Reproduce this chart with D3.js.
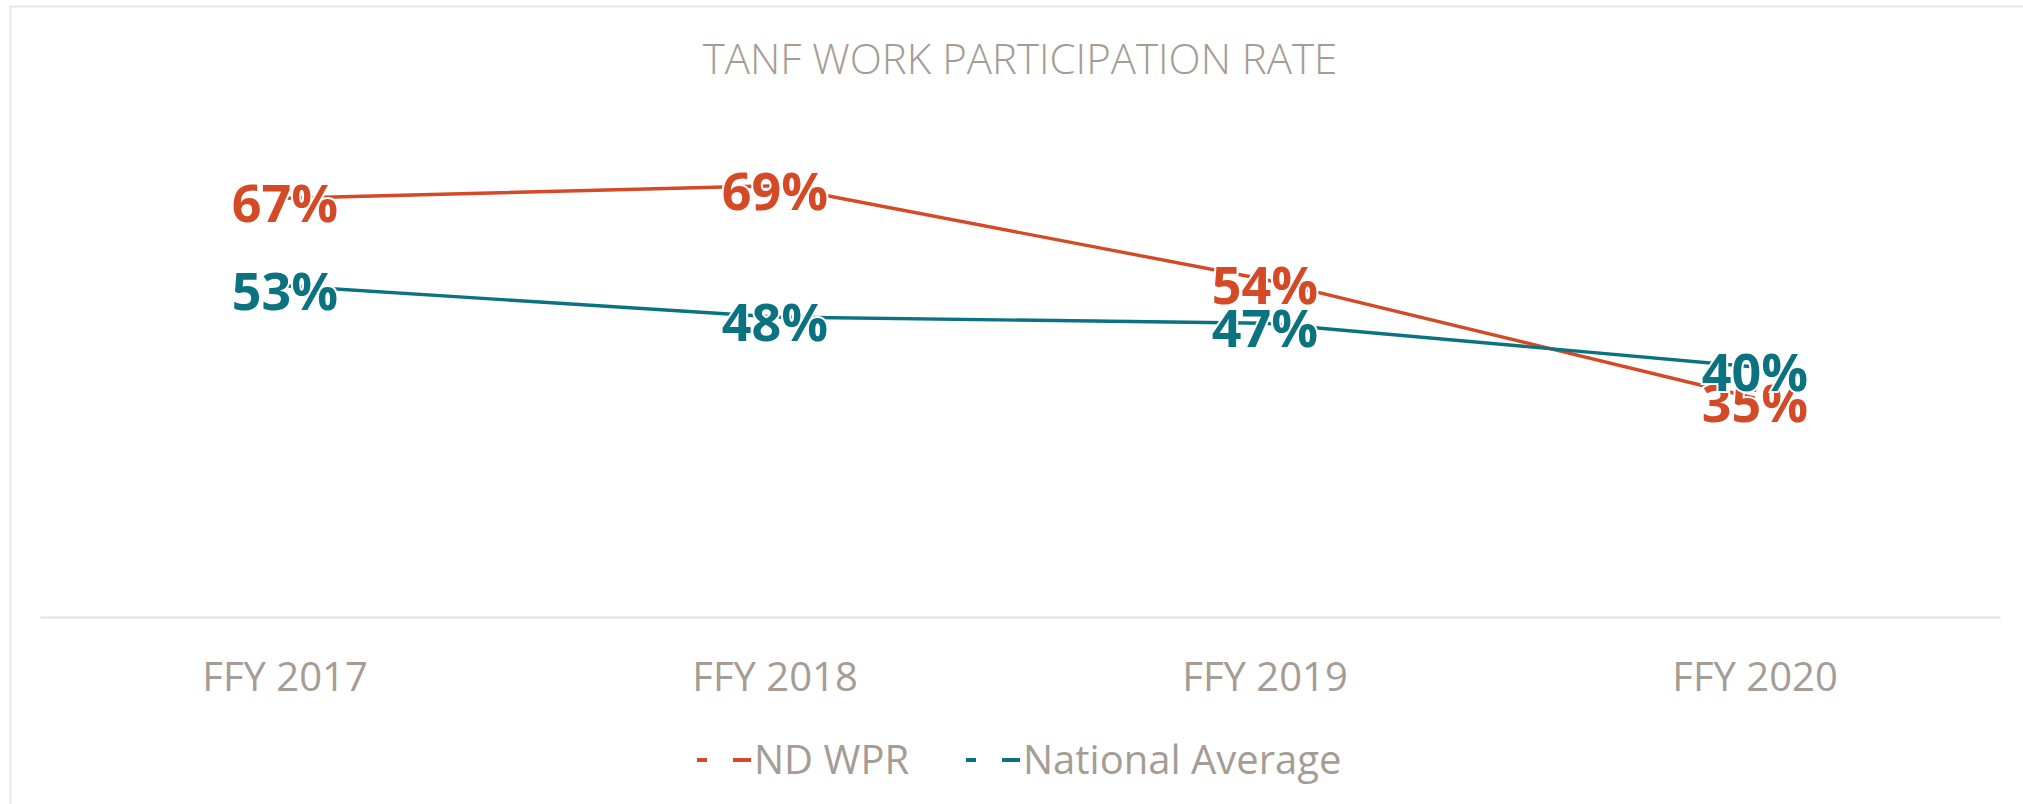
<!DOCTYPE html>
<html>
<head>
<meta charset="utf-8">
<script src="https://cdn.jsdelivr.net/npm/d3@7"></script>
<style>
  html, body { margin: 0; padding: 0; background: #fff; }
  svg { display: block; }
</style>
</head>
<body>
<svg id="chart" width="2023" height="804"></svg>
<script>
const title = "TANF WORK PARTICIPATION RATE";
const categories = ["FFY 2017", "FFY 2018", "FFY 2019", "FFY 2020"];
const seriesNames = ["ND WPR", "National Average"];
const ndWpr = [0.67, 0.69, 0.54, 0.35];
const nationalAverage = [0.53, 0.48, 0.47, 0.40];
const colors = ["#D44A27", "#0B7280"];
const yDomain = [0, 0.8];

const textColor = "#A59C94";
const font = "'Open Sans', 'Noto Sans', sans-serif";

const svg = d3.select("#chart");
const W = 2023, H = 804;

// frame
svg.append("line").attr("x1", 10).attr("x2", W).attr("y1", 6.5).attr("y2", 6.5)
  .attr("stroke", "#e6e6e6").attr("stroke-width", 2);
svg.append("line").attr("x1", 10.5).attr("x2", 10.5).attr("y1", 6).attr("y2", H)
  .attr("stroke", "#e6e6e6").attr("stroke-width", 2);

const x = d3.scaleBand().domain(categories).range([40, 2000]);
const y = d3.scaleLinear().domain(yDomain).range([617, 117]);

// title
svg.append("text").attr("x", 1020).attr("y", 74)
  .attr("text-anchor", "middle")
  .attr("font-family", font).attr("font-weight", 300)
  .attr("font-size", 42).attr("fill", textColor)
  .text(title);

// x axis
const xAxis = d3.axisBottom(x).tickSize(0).tickPadding(0);
const gx = svg.append("g").attr("transform", "translate(0,617)").call(xAxis);
gx.select(".domain").attr("stroke", "#e2e2e2").attr("stroke-width", 2);
gx.selectAll(".tick text")
  .attr("font-family", font).attr("font-size", 40).attr("fill", textColor)
  .attr("dy", 0).attr("y", 74);

const series = [ndWpr, nationalAverage];
const line = d3.line()
  .x((d, i) => x(categories[i]) + x.bandwidth() / 2)
  .y(d => y(d));

series.forEach((vals, si) => {
  svg.append("path").datum(vals)
    .attr("d", line)
    .attr("fill", "none")
    .attr("stroke", colors[si])
    .attr("stroke-width", 3.4)
    .attr("stroke-linejoin", "round");
});

const fmt = d3.format(".0%");
series.forEach((vals, si) => {
  svg.append("g").selectAll("text").data(vals).join("text")
    .attr("x", (d, i) => x(categories[i]) + x.bandwidth() / 2)
    .attr("y", d => y(d) + 24)
    .attr("text-anchor", "middle")
    .attr("font-family", font).attr("font-weight", 700)
    .attr("font-size", 52)
    .attr("fill", colors[si])
    .attr("stroke", "#fff").attr("stroke-width", 4).attr("paint-order", "stroke")
    .text(d => fmt(d));
});

// legend
const legend = [
  { name: seriesNames[0], color: colors[0], x: 697 },
  { name: seriesNames[1], color: colors[1], x: 966 }
];
legend.forEach(l => {
  const g = svg.append("g").attr("transform", `translate(${l.x},760)`);
  g.append("line").attr("x1", 0).attr("x2", 10).attr("y1", 0).attr("y2", 0)
    .attr("stroke", l.color).attr("stroke-width", 4);
  g.append("line").attr("x1", 36).attr("x2", 54).attr("y1", 0).attr("y2", 0)
    .attr("stroke", l.color).attr("stroke-width", 4);
  g.append("text").attr("x", 57).attr("y", 14)
    .attr("font-family", font).attr("font-size", 40).attr("fill", textColor)
    .text(l.name);
});
</script>
</body>
</html>
